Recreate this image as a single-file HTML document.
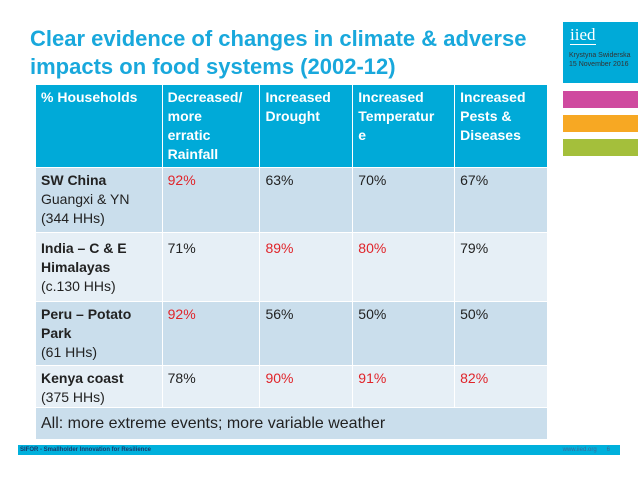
<!DOCTYPE html>
<html><head><meta charset="utf-8"><style>
body{margin:0;width:638px;height:479px;background:#fff;position:relative;overflow:hidden;font-family:"Liberation Sans",sans-serif}
.abs{position:absolute}
h1{position:absolute;left:30px;top:25px;margin:0;font-size:22px;line-height:28px;color:#19a8dc;font-weight:bold}
table{position:absolute;left:35px;top:84px;width:513px;border-collapse:collapse;font-size:14px;line-height:19px;color:#222}
td{border:1.5px solid #fff;vertical-align:top;padding:3px 5px 0 5px}
tr.h td{background:#00aad8;color:#fff;font-weight:bold;height:79px}
tr.d td{background:#cadeec}
tr.l td{background:#e6eff6}
.r{color:#e0242a}
</style></head><body>
<h1>Clear evidence of changes in climate &amp; adverse<br>impacts on food systems (2002-12)</h1>
<div class="abs" style="left:563px;top:22px;width:75px;height:61px;background:#00aad8">
<div style="position:absolute;left:7px;top:4px;font-family:'Liberation Serif',serif;font-size:17px;color:#fff;border-bottom:1.5px solid #fff;line-height:18px">iied</div>
<div style="position:absolute;left:6px;top:29px;font-size:7px;line-height:9px;color:#333">Krystyna Swiderska<br>15 November 2016</div>
</div>
<div class="abs" style="left:563px;top:91px;width:75px;height:17px;background:#cf4a9f"></div>
<div class="abs" style="left:563px;top:115px;width:75px;height:17px;background:#f7a823"></div>
<div class="abs" style="left:563px;top:139px;width:75px;height:17px;background:#a4bf3b"></div>
<table>
<colgroup><col style="width:127px"><col style="width:98px"><col style="width:93px"><col style="width:102px"><col style="width:93px"></colgroup>
<tr class="h"><td>% Households</td><td>Decreased/<br>more<br>erratic<br>Rainfall</td><td>Increased<br>Drought</td><td>Increased<br>Temperatur<br>e</td><td>Increased<br>Pests &amp;<br>Diseases</td></tr>
<tr class="d" style="height:65px"><td><b>SW China</b><br>Guangxi &amp; YN<br>(344 HHs)</td><td class="r">92%</td><td>63%</td><td>70%</td><td>67%</td></tr>
<tr class="l" style="height:69px"><td style="padding-top:6px"><b>India – C &amp; E Himalayas</b><br>(c.130 HHs)</td><td style="padding-top:6px">71%</td><td class="r" style="padding-top:6px">89%</td><td class="r" style="padding-top:6px">80%</td><td style="padding-top:6px">79%</td></tr>
<tr class="d" style="height:64px"><td><b>Peru – Potato Park</b><br>(61 HHs)</td><td class="r">92%</td><td>56%</td><td>50%</td><td>50%</td></tr>
<tr class="l" style="height:41px"><td><b>Kenya coast</b><br>(375 HHs)</td><td>78%</td><td class="r">90%</td><td class="r">91%</td><td class="r">82%</td></tr>
<tr class="d" style="height:32px"><td colspan="5" style="font-size:16px;padding-top:6px">All: more extreme events; more variable weather</td></tr>
</table>
<div class="abs" style="left:18px;top:445px;width:602px;height:10px;background:#00b0dc;font-size:6px;line-height:10px;font-weight:bold;color:#1a3a6a">
<span style="position:absolute;left:2px">SIFOR - Smallholder Innovation for Resilience</span>
<span style="position:absolute;right:10px;color:#3a6a9a;font-weight:normal">www.iied.org &nbsp;&nbsp;&nbsp;&nbsp; 6</span>
</div>
</body></html>
